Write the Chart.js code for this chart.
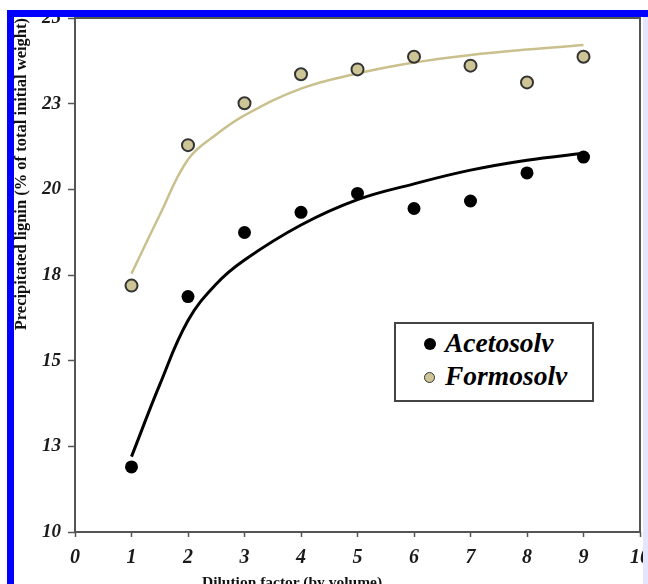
<!DOCTYPE html>
<html>
<head>
<meta charset="utf-8">
<script src="https://cdn.jsdelivr.net/npm/chart.js@4"></script>
<style>
  body { margin: 0; background: #fff; }
  #wrap { position: relative; width: 648px; height: 584px; overflow: hidden; background: #fff; }
  #myChart { position: absolute; left: 0; top: 0; }
  .bar { position: absolute; background: #0000ff; }
  .serif { font-family: "Liberation Serif", "DejaVu Serif", serif; color: #111; white-space: nowrap; }
  #xTitle { position: absolute; left: 202px; top: 574px; font-size: 15.5px; line-height: 15px; font-weight: bold; }
  #legend { position: absolute; left: 394px; top: 322px; width: 196px; height: 76px; border: 2px solid #444; background: #fff; }
  .dot { position: absolute; border-radius: 50%; box-sizing: border-box; }
  .lbl { position: absolute; font-size: 27.5px; line-height: 27px; font-weight: bold; font-style: italic; color: #000; }
</style>
</head>
<body>
<div id="wrap">
  <canvas id="myChart" width="648" height="584"></canvas>
  <div class="bar" style="left:7px; top:10px; width:641px; height:7px;"></div>
  <div class="bar" style="left:7px; top:10px; width:7px; height:574px;"></div>
  <div style="position:absolute; left:643px; top:17px; width:5px; height:567px; background:#e4e6fb;"></div>
  <div id="xTitle" class="serif">Dilution factor (by volume)</div>
  <div id="legend">
    <div class="dot" style="left:28px; top:14px; width:12px; height:12px; background:#000;"></div>
    <div class="lbl serif" style="left:49px; top:5px;">Acetosolv</div>
    <div class="dot" style="left:28px; top:48px; width:11px; height:11px; background:#cdc596; border:1.5px solid #333;"></div>
    <div class="lbl serif" style="left:49px; top:38px;">Formosolv</div>
  </div>
</div>
<script>
// measured points
const dilution = [1, 2, 3, 4, 5, 6, 7, 8, 9];
const acetosolv = [11.9, 16.87, 18.74, 19.33, 19.88, 19.44, 19.66, 20.48, 20.94];
const formosolv = [17.19, 21.29, 22.51, 23.36, 23.5, 23.87, 23.61, 23.12, 23.87];

// fitted curves
const fitX = [1, 1.5, 2, 2.5, 3, 4, 5, 6, 7, 8, 9];
const acetosolvFit = [12.2, 14.3, 16.17, 17.24, 17.94, 18.96, 19.7, 20.16, 20.56, 20.85, 21.05];
const formosolvFit = [17.54, 19.25, 20.87, 21.6, 22.16, 22.94, 23.38, 23.7, 23.92, 24.08, 24.21];

const xTickValues = [0, 1, 2, 3, 4, 5, 6, 7, 8, 9, 10];
const xTickLabels = ["0", "1", "2", "3", "4", "5", "6", "7", "8", "9", "10"];
const yTickValues = [10, 12.5, 15, 17.5, 20, 22.5, 25];
const yTickLabels = ["10", "13", "15", "18", "20", "23", "25"];

const toXY = (xs, ys) => xs.map((x, i) => ({ x: x, y: ys[i] }));

const tickFont = { family: "'Liberation Serif', serif", weight: "bold", style: "italic" };

const frame = {
  id: "frame",
  afterDatasetsDraw(chart) {
    const a = chart.chartArea;
    const ctx = chart.ctx;
    ctx.save();
    ctx.strokeStyle = "#555";
    ctx.lineWidth = 2;
    ctx.strokeRect(a.left, a.top, a.right - a.left, a.bottom - a.top);
    ctx.restore();
  },
};

const noPad = (scale) => {
  scale.paddingLeft = 0;
  scale.paddingRight = 0;
  scale.paddingTop = 0;
  scale.paddingBottom = 0;
};

let ctx = document.getElementById("myChart").getContext("2d");
window.grafica = new Chart(ctx, {
  type: "scatter",
  data: {
    datasets: [
      {
        label: "Acetosolv",
        data: toXY(dilution, acetosolv),
        backgroundColor: "#000",
        borderColor: "#000",
        pointRadius: 6.5,
        borderWidth: 0,
      },
      {
        label: "Formosolv",
        data: toXY(dilution, formosolv),
        backgroundColor: "#cdc596",
        borderColor: "#333",
        pointRadius: 6,
        borderWidth: 2,
      },
      {
        label: "Acetosolv fit",
        data: toXY(fitX, acetosolvFit),
        showLine: true,
        borderColor: "#000",
        borderWidth: 3,
        pointRadius: 0,
        tension: 0.4,
      },
      {
        label: "Formosolv fit",
        data: toXY(fitX, formosolvFit),
        showLine: true,
        borderColor: "#c9c08e",
        borderWidth: 2.5,
        pointRadius: 0,
        tension: 0.4,
      },
    ],
  },
  options: {
    responsive: false,
    animation: false,
    layout: { padding: { top: 18, right: 8, left: 0, bottom: 0 } },
    plugins: { legend: { display: false }, tooltip: { enabled: false } },
    scales: {
      x: {
        type: "linear",
        min: 0,
        max: 10,
        afterBuildTicks: (scale) => { scale.ticks = xTickValues.map((v) => ({ value: v })); },
        afterFit: (scale) => { scale.height = 52; noPad(scale); },
        border: { display: false },
        grid: { drawOnChartArea: false, drawTicks: true, tickLength: 5, tickColor: "#555", tickWidth: 1.5 },
        ticks: {
          autoSkip: false,
          maxRotation: 0,
          padding: 9,
          color: "#1a1a1a",
          font: { ...tickFont, size: 20 },
          callback: (v, i) => xTickLabels[i],
        },
      },
      y: {
        min: 10,
        max: 25,
        afterBuildTicks: (scale) => { scale.ticks = yTickValues.map((v) => ({ value: v })); },
        afterFit: (scale) => { scale.width = 75; noPad(scale); },
        border: { display: false },
        grid: { drawOnChartArea: false, drawTicks: true, tickLength: 7, tickColor: "#555", tickWidth: 1.5 },
        ticks: {
          autoSkip: false,
          padding: 7,
          color: "#1a1a1a",
          font: { ...tickFont, size: 19 },
          callback: (v, i) => yTickLabels[i],
        },
        title: {
          display: true,
          text: "Precipitated lignin (% of total initial weight)",
          align: "end",
          color: "#111",
          padding: { top: 12, bottom: 0 },
          font: { family: "'Liberation Serif', serif", weight: "bold", size: 16.5 },
        },
      },
    },
  },
  plugins: [frame],
});
</script>
</body>
</html>
